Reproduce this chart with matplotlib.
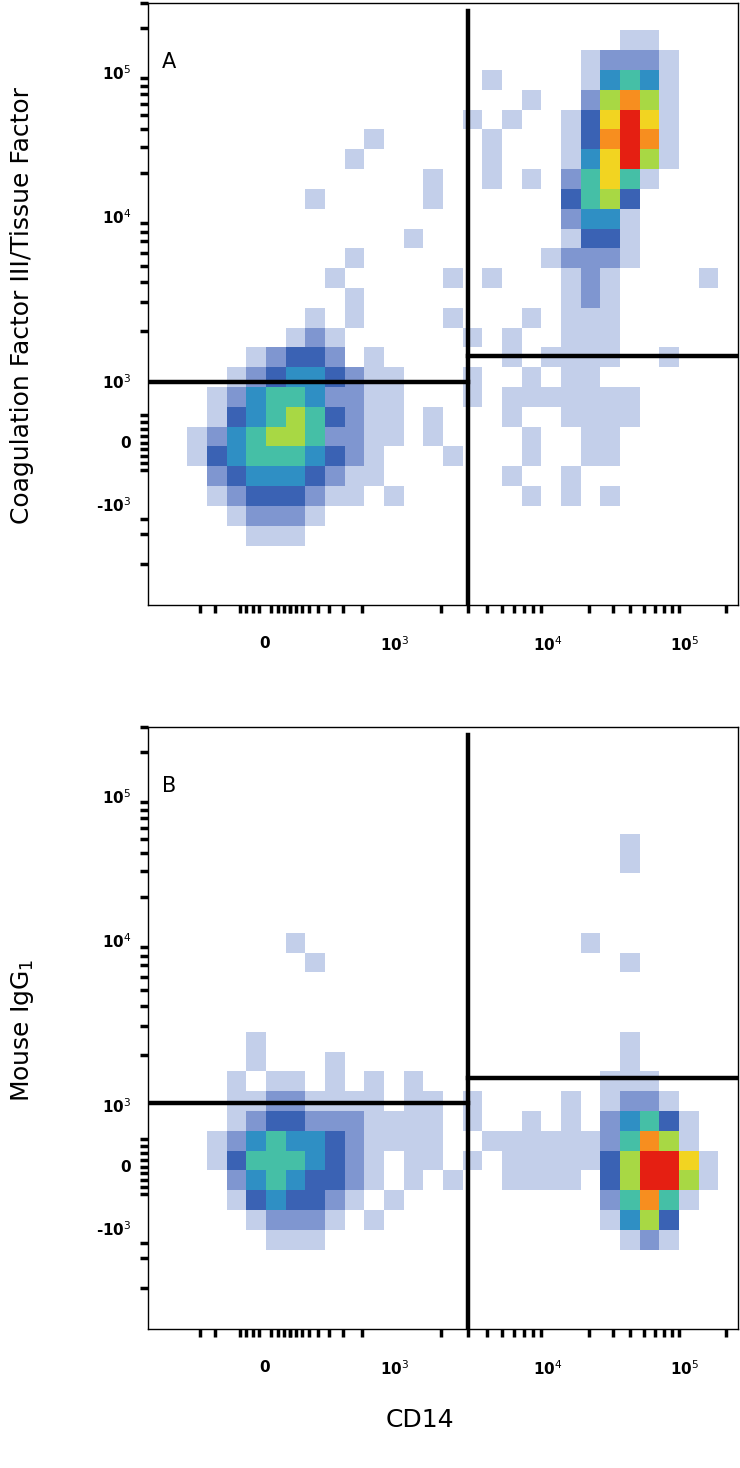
import matplotlib
matplotlib.use("Agg")
import matplotlib.pyplot as plt
import numpy as np
from matplotlib.colors import ListedColormap, BoundaryNorm

grid_A = [
"..............................",
"........................11....",
"......................12221...",
".................1....14541...",
"...................1..26861...",
"................1.1..137971...",
"...........1.....1...138981...",
"..........1......1...147961...",
"..............1..1.1.25751....",
"........1.....1......3563.....",
".....................2441.....",
".............1.......1331.....",
"..........1.........12221.....",
".........1.....1.1...121....1.",
"..........1..........121......",
"........1.1....1...1.111......",
".......121......1.1..111......",
".....12332.1......1.1111..1...",
"....123443211...1..1.11.......",
"...1245542211...1.1111111.....",
"...1345653211.1...1..1111.....",
"..12456652211.1....1..11......",
"..1345554321...1...1..11......",
"...234443211......1..1........",
"...12333211.1......1.1.1......",
"....12221.....................",
".....111......................",
"..............................",
"..............................",
"..............................",
]
grid_B = [
"..............................",
"..............................",
"..............................",
"..............................",
"..............................",
"........................1.....",
"........................1.....",
"..............................",
"..............................",
"..............................",
".......1..............1.......",
"........1...............1.....",
"..............................",
"..............................",
"..............................",
".....1..................1.....",
".....1...1..............1.....",
"....1.11.1.1.1.........111....",
"....11221111.11.1....1.1221...",
"....12332221111.1..1.1.24531..",
"...124544321111..11111125861..",
"...135554321.11.1.11111369971.",
"....24543321.1.1..1111.369961.",
"....1343321.1..........25851..",
".....12221.1...........1463...",
"......111...............121...",
"..............................",
"..............................",
"..............................",
"..............................",
]
ytick_labels = ["10$^5$", "10$^4$", "10$^3$", "0", "-10$^3$"]
ytick_pos = [62, 208, 375, 437, 500]          # px from panel top (panel height 602)
xtick_labels = ["0", "10$^3$", "10$^4$", "10$^5$"]
xtick_pos = [265, 395, 548, 685]              # px in figure
quad_A = dict(vx=468, hl=376, hr=350)
quad_B = dict(vx=468, hl=373, hr=348)

W, H = 740, 1468
fig = plt.figure(figsize=(W/100, H/100), dpi=100)
cmap = ListedColormap(['#ffffff', '#c3cfea', '#7f96d0', '#3a62b4', '#2f8fc4',
                       '#45bfa6', '#a8d844', '#f2d421', '#f78e1f', '#e51f12'])
norm = BoundaryNorm(np.arange(-0.5, 10.5, 1), cmap.N)
X0, X1 = 148, 738
PH = 602

def to_arr(g):
    return np.array([[0 if ch == '.' else int(ch) for ch in row] for row in g])

def panel(top, grid, q, letter):
    ax = fig.add_axes([X0/W, 1-(top+PH)/H, (X1-X0)/W, PH/H])
    arr = to_arr(grid)
    ax.pcolormesh(np.linspace(X0, X1, arr.shape[1]+1), np.linspace(0, PH, arr.shape[0]+1),
                  arr, cmap=cmap, norm=norm, shading='flat')
    ax.set_xlim(X0, X1); ax.set_ylim(PH, 0)
    ax.plot([q['vx'], q['vx']], [0, PH], color='k', lw=3.2)
    ax.plot([X0, q['vx']], [q['hl'], q['hl']], color='k', lw=3.2)
    ax.plot([q['vx'], X1], [q['hr'], q['hr']], color='k', lw=3.2)
    ax.text(162, 52, letter, fontsize=15, va='center', ha='left')
    ax.set_yticks(ytick_pos); ax.set_yticklabels(ytick_labels, fontsize=11, fontweight='bold')
    ax.set_xticks(xtick_pos); ax.set_xticklabels(xtick_labels, fontsize=11, fontweight='bold')
    ax.tick_params(length=0, pad=22)
    ax.tick_params(axis='y', pad=12)
    yminor = []
    for a, b in [(62, 208), (208, 375)]:
        yminor += [b - (b-a)*np.log10(k) for k in range(2, 10)]
    yminor += [62 - 146*np.log10(k) for k in range(2, 4)]
    yminor += list(np.linspace(410, 465, 9)) + [500, 515, 530, 560]
    xminor = []
    for a, b in [(395, 548), (548, 685)]:
        xminor += [a + (b-a)*np.log10(k) for k in range(2, 10)]
    xminor += [395 - 110*np.log10(k) for k in range(2, 10)] + list(np.linspace(240, 290, 9))
    xminor += [685 + 137*np.log10(k) for k in range(2, 3)] + [200, 215]
    ax.set_yticks(yminor, minor=True); ax.set_xticks(xminor, minor=True)
    ax.tick_params(which='minor', length=6, width=2.5, direction='out')
    for s in ax.spines.values():
        s.set_linewidth(1)
    return ax

panel(3, grid_A, quad_A, "A")
panel(727, grid_B, quad_B, "B")
fig.text(22/W, 1-305/H, "Coagulation Factor III/Tissue Factor", rotation=90, fontsize=18,
         ha='center', va='center')
fig.text(22/W, 1-1030/H, "Mouse IgG$_1$", rotation=90, fontsize=18, ha='center', va='center')
fig.text(420/W, 1-1420/H, "CD14", fontsize=18, ha='center', va='center')
fig.savefig("out.png", dpi=100)
